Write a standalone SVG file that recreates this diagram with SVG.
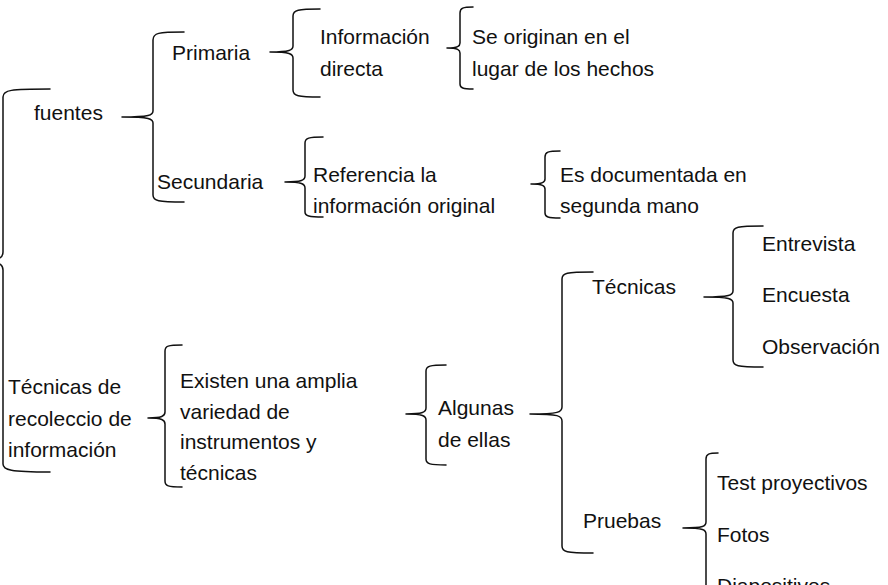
<svg xmlns="http://www.w3.org/2000/svg" width="888" height="585" viewBox="0 0 888 585">
<style>
.t{font-family:"Liberation Sans",Arial,sans-serif;font-size:21px;fill:#111;}
.b{fill:none;stroke:#111;stroke-width:1.5;stroke-linecap:round;}
</style>
<rect width="888" height="585" fill="#fff"/>
<g id="connectors">
<!-- big left brace -->
<path class="b" d="M50,89 C10,89 3,90 3,97 V252 C3,258 0,261 -25,261 M-25,261 C0,261 3,264 3,270 V464 C3,470 10,472 50,472"/>
<!-- fuentes brace -->
<path class="b" d="M184,32 C158,32 153,33 153,40 V111 C153,115 150,117 122,117 M122,117 C150,117 153,119 153,123 V195 C153,201 158,202 184,202"/>
<!-- Primaria brace -->
<path class="b" d="M320,9 C298,9 293,10 293,16 V46 C293,50 290,52 270,52 M270,52 C290,52 293,54 293,58 V90 C293,96 298,97 320,97"/>
<!-- Información directa brace -->
<path class="b" d="M473,7 C463,7 460,8 460,13 V43 C460,46 458,48 447,48 M447,48 C458,48 460,50 460,53 V84 C460,88 463,89 473,89"/>
<!-- Secundaria brace -->
<path class="b" d="M323,137 C309,137 305,138 305,143 V176 C305,180 302,182 285,182 M285,182 C302,182 305,184 305,188 V212 C305,216 309,217 323,217"/>
<!-- Referencia brace -->
<path class="b" d="M560,151 C548,151 545,152 545,157 V179 C545,182 543,184 531,184 M531,184 C543,184 545,186 545,189 V213 C545,217 548,218 560,218"/>
<!-- Técnicas de recoleccio brace -->
<path class="b" d="M182,345 C168,345 165,346 165,351 V412 C165,416 162,418 148,418 M148,418 C162,418 165,420 165,424 V481 C165,486 168,487 182,487"/>
<!-- Existen brace -->
<path class="b" d="M446,365 C430,365 426,366 426,371 V408 C426,412 423,414 406,414 M406,414 C423,414 426,416 426,420 V459 C426,464 430,465 446,465"/>
<!-- Algunas brace -->
<path class="b" d="M593,272 C566,272 562,273 562,279 V407 C562,412 559,414 530,414 M530,414 C559,414 562,416 562,421 V546 C562,552 566,553 593,553"/>
<!-- Técnicas brace -->
<path class="b" d="M763,226 C737,226 733,227 733,233 V291 C733,295 730,297 704,297 M704,297 C730,297 733,299 733,303 V360 C733,366 737,367 763,367"/>
<!-- Pruebas brace -->
<path class="b" d="M718,453 C709,453 706,454 706,459 V522 C706,526 704,528 683,528 M683,528 C704,528 706,530 706,534 V600"/>
</g>
<g id="n-fuentes"><text class="t" x="34" y="120">fuentes</text></g>
<g id="n-primaria"><text class="t" x="172" y="60">Primaria</text></g>
<g id="n-secundaria"><text class="t" x="157" y="189">Secundaria</text></g>
<g id="n-info-directa"><text class="t" x="320" y="44">Información</text><text class="t" x="320" y="76">directa</text></g>
<g id="n-se-originan"><text class="t" x="472" y="44">Se originan en el</text><text class="t" x="472" y="76">lugar de los hechos</text></g>
<g id="n-referencia"><text class="t" x="313" y="182">Referencia la</text><text class="t" x="313" y="213">información original</text></g>
<g id="n-documentada"><text class="t" x="560" y="182">Es documentada en</text><text class="t" x="560" y="213">segunda mano</text></g>
<g id="n-tecnicas-recoleccion"><text class="t" x="8" y="394">Técnicas de</text><text class="t" x="8" y="426">recoleccio de</text><text class="t" x="8" y="457">información</text></g>
<g id="n-existen"><text class="t" x="180" y="388">Existen una amplia</text><text class="t" x="180" y="419">variedad de</text><text class="t" x="180" y="449">instrumentos y</text><text class="t" x="180" y="480">técnicas</text></g>
<g id="n-algunas"><text class="t" x="438" y="415">Algunas</text><text class="t" x="438" y="447">de ellas</text></g>
<g id="n-tecnicas"><text class="t" x="592" y="294">Técnicas</text></g>
<g id="n-entrevista"><text class="t" x="762" y="251">Entrevista</text></g>
<g id="n-encuesta"><text class="t" x="762" y="302">Encuesta</text></g>
<g id="n-observacion"><text class="t" x="762" y="354">Observación</text></g>
<g id="n-pruebas"><text class="t" x="583" y="528">Pruebas</text></g>
<g id="n-test"><text class="t" x="717" y="490">Test proyectivos</text></g>
<g id="n-fotos"><text class="t" x="717" y="542">Fotos</text></g>
<g id="n-diapositivos"><text class="t" x="717" y="593">Diapositivos</text></g>
</svg>
